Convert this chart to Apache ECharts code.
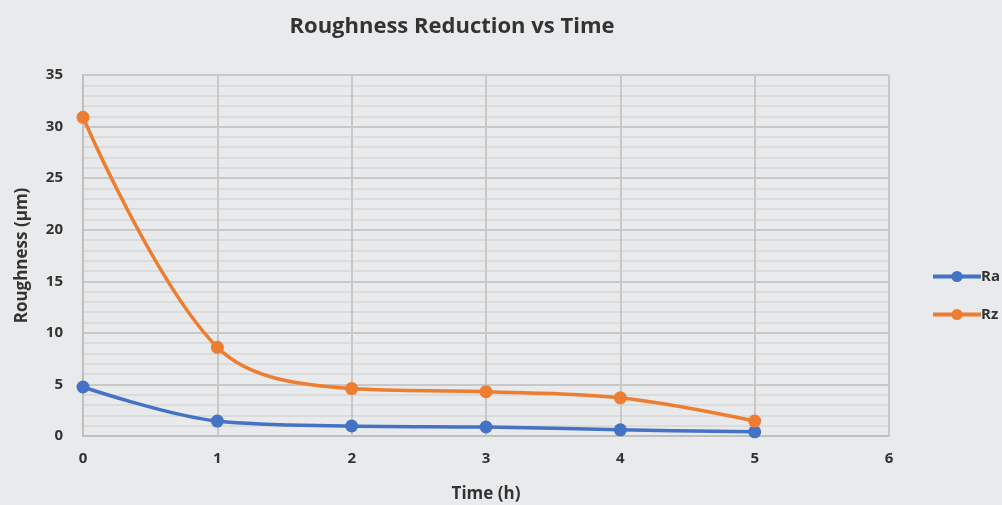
<!DOCTYPE html>
<html>
<head>
<meta charset="utf-8">
<script src="https://cdn.jsdelivr.net/npm/echarts@6/dist/echarts.min.js"></script>
<style>
  html, body { margin: 0; padding: 0; background: #e9eaeb; }
  #main { width: 1002px; height: 505px; }
</style>
</head>
<body>
<div id="main"></div>
<script>
// time in hours
var times = [0, 1, 2, 3, 4, 5];
// roughness values (µm)
var raValues = [4.75, 1.45, 0.97, 0.87, 0.6, 0.4];
var rzValues = [30.9, 8.6, 4.6, 4.3, 3.7, 1.45];

var seriesNames = ['Ra', 'Rz'];
var seriesColors = ['#4472C4', '#ED7D31'];

function pairs(xs, ys) {
  return xs.map(function (x, i) { return [x, ys[i]]; });
}

var chart = echarts.init(document.getElementById('main'));

var fontFam = '"Open Sans", "Noto Sans", sans-serif';
var textCol = '#333';

chart.setOption({
  backgroundColor: '#e9eaeb',
  animation: false,
  title: {
    text: 'Roughness Reduction vs Time',
    left: 447,
    top: 11,
    textAlign: 'center',
    textStyle: { fontFamily: fontFam, fontSize: 22, fontWeight: 'bold', color: textCol }
  },
  legend: {
    orient: 'vertical',
    left: 926,
    top: 264,
    itemGap: 23,
    itemWidth: 48,
    itemHeight: 14,
    data: seriesNames,
    lineStyle: { width: 4 },
    textStyle: { fontFamily: fontFam, fontSize: 15, fontWeight: 'bold', color: textCol, padding: [0, 0, 0, -5] }
  },
  grid: { left: 83, right: 113, top: 75, bottom: 69, outerBoundsMode: 'none' },
  xAxis: {
    type: 'value',
    min: 0, max: 6, interval: 1,
    name: 'Time (h)',
    nameLocation: 'middle',
    nameGap: 50,
    nameTextStyle: { fontFamily: fontFam, fontSize: 17, fontWeight: 'bold', color: textCol },
    axisLine: { lineStyle: { color: '#bfbfbf', width: 2 } },
    axisTick: { show: false },
    axisLabel: { fontFamily: fontFam, fontSize: 15, fontWeight: 'bold', color: textCol, margin: 15 },
    splitLine: { show: true, lineStyle: { color: '#c8c8c8', width: 2 } }
  },
  yAxis: {
    type: 'value',
    min: 0, max: 35, interval: 5,
    name: 'Roughness (µm)',
    nameLocation: 'middle',
    nameGap: 52,
    nameTextStyle: { fontFamily: fontFam, fontSize: 17, fontWeight: 'bold', color: textCol },
    axisLine: { show: true, lineStyle: { color: '#bfbfbf', width: 2 } },
    axisTick: { show: false },
    axisLabel: { fontFamily: fontFam, fontSize: 15, fontWeight: 'bold', color: textCol, margin: 20 },
    splitLine: { show: true, lineStyle: { color: '#c8c8c8', width: 2 } },
    minorTick: { show: false, splitNumber: 5 },
    minorSplitLine: { show: true, lineStyle: { color: '#d6d6d6', width: 1.5 } }
  },
  series: seriesNames.map(function (name, i) {
    return {
      name: name,
      type: 'line',
      smooth: 0.35,
      symbol: 'circle',
      symbolSize: 13,
      color: seriesColors[i],
      lineStyle: { width: 3.5 },
      data: pairs(times, i === 0 ? raValues : rzValues)
    };
  })
});
</script>
</body>
</html>
